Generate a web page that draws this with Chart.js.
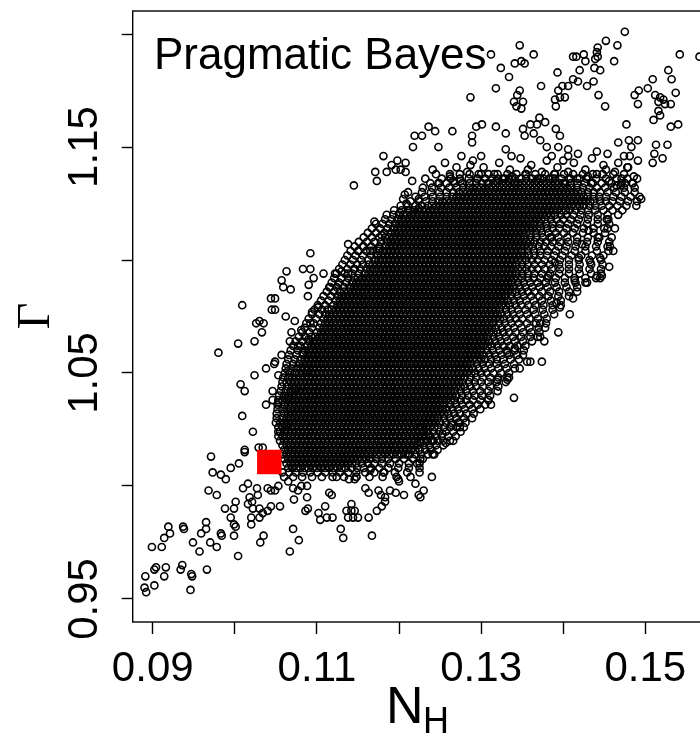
<!DOCTYPE html>
<html>
<head>
<meta charset="utf-8">
<title>Pragmatic Bayes</title>
<script src="https://cdn.jsdelivr.net/npm/chart.js@4.4.1/dist/chart.umd.min.js"></script>
<style>
  html, body { margin: 0; padding: 0; background: #fff; overflow: hidden; width: 700px; height: 735px; }
  #wrap { width: 712px; height: 735px; }
  canvas { display: block; width: 712px; height: 735px; }
</style>
</head>
<body>
<div id="wrap"><canvas id="my-chart" width="712" height="735"></canvas></div>
<script>
'use strict';

//**************AXES********** */
let xTicks = [0.09, 0.10, 0.11, 0.12, 0.13, 0.14, 0.15];
let xLabels = ['0.09', '', '0.11', '', '0.13', '', '0.15'];
let yTicks = [0.95, 1.00, 1.05, 1.10, 1.15, 1.20];
let yLabels = ['0.95', '', '1.05', '', '1.15', ''];

//**************DATA********** */
// red square: the true (N_H, Gamma)
let trueValue = [[0.1042, 1.0106]];

// single draws: [N_H, Gamma]
let outerDraws = [
  [.1219,1.155],[.1217,1.150],[.1181,1.146],[.1191,1.142],[.1198,1.144],[.1208,1.143],[.1171,1.139],[.1185,1.139],
  [.1196,1.140],[.1202,1.140],[.1208,1.139],[.1173,1.135],[.1145,1.133],[.1216,1.135],[.1207,1.129],[.1211,1.130],
  [.1205,1.127],[.1209,1.125],[.1201,1.121],[.1213,1.122],[.1224,1.123],[.1224,1.127],
  [.1347,1.195],[.1364,1.191],[.1312,1.191],[.1324,1.185],[.1341,1.187],[.1349,1.188],[.1353,1.187],[.1334,1.181],
  [.1393,1.183],[.1318,1.176],[.1287,1.172],[.1347,1.175],[.1344,1.173],[.1351,1.170],[.1340,1.170],[.1343,1.168],
  [.1349,1.167],[.1373,1.177],[.1394,1.175],[.1399,1.177],[.1396,1.172],[.1390,1.171],[.1391,1.168],[.1236,1.159],
  [.1244,1.157],[.1228,1.155],[.1265,1.157],[.1248,1.150],[.1294,1.159],[.1301,1.160],[.1289,1.155],[.1289,1.152],
  [.1318,1.159],[.1330,1.156],[.1276,1.146],[.1300,1.146],[.1330,1.149],[.1337,1.146],[.1351,1.158],[.1360,1.160],
  [.1368,1.160],[.1371,1.163],[.1378,1.161],[.1353,1.155],[.1364,1.156],[.1372,1.153],[.1380,1.150],[.1391,1.158],
  [.1396,1.155],[.1394,1.150],[.1386,1.146],[.1400,1.144],
  [.1475,1.201],[.1452,1.197],[.1466,1.195],[.1442,1.194],[.1441,1.192],[.1442,1.190],[.1439,1.189],[.1412,1.190],
  [.1416,1.190],[.1425,1.191],[.1427,1.188],[.1462,1.188],[.1438,1.185],[.1445,1.184],[.1420,1.184],[.1542,1.191],
  [.1566,1.190],[.1528,1.184],[.1532,1.180],[.1509,1.180],[.1503,1.176],[.1492,1.175],[.1487,1.173],[.1491,1.169],
  [.1512,1.173],[.1518,1.172],[.1522,1.171],[.1516,1.170],[.1524,1.169],[.1531,1.169],[.1537,1.174],[.1516,1.166],
  [.1518,1.164],[.1510,1.162],[.1531,1.159],[.1540,1.160],[.1477,1.160],[.1412,1.180],[.1418,1.179],[.1406,1.177],
  [.1429,1.177],[.1437,1.179],[.1443,1.173],[.1451,1.168],[.1402,1.172],[.1467,1.152],[.1480,1.153],[.1491,1.153],
  [.1483,1.150],[.1513,1.151],[.1527,1.151],[.1511,1.147],[.1521,1.145],[.1509,1.143],[.1491,1.144],[.1481,1.146],
  [.1474,1.146],[.1467,1.143],[.1479,1.141],[.1454,1.147],[.1441,1.148],[.1435,1.145],[.1495,1.127],[.1490,1.136],
  [.1485,1.134],[.1475,1.134],[.1465,1.133],[.1418,1.147],[.1406,1.149],[.1406,1.146],
  [.1232,1.136],[.1241,1.140],[.1249,1.134],[.1256,1.143],[.1262,1.137],[.1270,1.141],[.1275,1.135],[.1283,1.139],
  [.1290,1.144],[.1296,1.136],[.1303,1.141],[.1309,1.134],[.1316,1.138],[.1322,1.143],[.1329,1.136],[.1335,1.140],
  [.1341,1.134],[.1348,1.145],[.1354,1.138],[.1361,1.142],[.1367,1.135],[.1374,1.139],[.1380,1.144],[.1387,1.136],
  [.1393,1.141],[.1400,1.134],[.1406,1.139],[.1413,1.143],[.1420,1.136],[.1427,1.140],[.1434,1.134],[.1441,1.138],
  [.1449,1.142],[.1456,1.135],[.1463,1.139],[.1471,1.136],[.1478,1.141],[.1486,1.137],[.1245,1.138],[.1266,1.135],
  [.1287,1.142],[.1300,1.138],[.1319,1.135],[.1338,1.137],[.1357,1.140],[.1372,1.136],[.1390,1.138],[.1409,1.136],
  [.1430,1.137],[.1452,1.140],[.1470,1.133],
  [.1453,1.118],[.1454,1.114],[.1442,1.110],[.1431,1.113],[.1423,1.107],[.1457,1.106],[.1461,1.104],[.1445,1.101],
  [.1433,1.099],[.1456,1.097],[.1419,1.101],[.1441,1.093],[.1445,1.092],[.1447,1.093],[.1427,1.090],[.1414,1.091],
  [.1412,1.083],[.1408,1.076],
  [.1394,1.068],[.1374,1.055],[.1377,1.064],[.1372,1.066],[.1356,1.055],[.1347,1.052],[.1360,1.055],[.1341,1.061],
  [.1332,1.059],[.1320,1.047],[.1332,1.047],[.1334,1.048],[.1340,1.039],[.1312,1.036],[.1372,1.072],[.1396,1.079],
  [.1392,1.081],[.1382,1.093],[.1390,1.099],[.1386,1.110],
  [.1170,1.117],[.1179,1.111],[.1138,1.107],[.1150,1.104],[.1157,1.106],[.1165,1.104],[.1176,1.105],[.1092,1.103],
  [.1063,1.095],[.1083,1.096],[.1092,1.096],[.1096,1.092],[.1108,1.094],[.1122,1.094],[.1130,1.095],[.1138,1.094],
  [.1146,1.096],[.1057,1.091],[.1059,1.088],[.1068,1.087],[.1090,1.089],[.1089,1.084],[.1116,1.088],[.1126,1.089],
  [.1049,1.083],[.1049,1.078],[.1062,1.075],[.1073,1.073],[.1081,1.069],[.1092,1.072],[.1094,1.077],[.1101,1.079],
  [.1069,1.068],[.1067,1.064],[.1057,1.058],[.1049,1.055],[.1090,1.065],[.1077,1.062],[.1083,1.059],[.1053,1.049],
  [.1065,1.051],[.1088,1.051],[.1065,1.039],[.1053,1.037],[.1073,1.043],
  [.1009,1.080],[.1044,1.083],[.1045,1.078],[.1026,1.072],[.1030,1.073],[.1035,1.072],[.1033,1.068],[.1004,1.063],
  [.1024,1.064],[.0980,1.059],[.1038,1.052],[.1048,1.054],[.1024,1.049],[.1007,1.045],[.1012,1.042],[.1046,1.042],
  [.1046,1.038],[.1038,1.036],[.1009,1.031],
  [.1022,1.024],[.1012,1.016],[.1012,1.015],[.1029,1.017],[.1034,1.017],[.0971,1.013],[.1005,1.010],[.0995,1.008],
  [.0989,1.003],[.0983,1.005],[.0973,1.006],[.0968,0.998],[.0978,0.996],[.1010,0.999],[.1016,1.001],[.1027,0.999],
  [.1028,0.996],[.1018,0.995],[.1021,0.993],[.1040,0.999],[.1044,0.998],[.1001,0.993],[.0999,0.990],[.0988,0.990],
  [.0995,0.986],[.0999,0.983],[.1001,0.982],[.0983,0.979],[.0984,0.978],[.0999,0.978],[.1016,0.992],[.1022,0.990],
  [.1030,0.990],[.1034,0.988],[.1040,0.989],[.1044,0.991],[.1020,0.986],[.1020,0.983],[.1030,0.986],[.1035,0.978],
  [.1031,0.975],[.0965,0.984],[.0965,0.981],[.0959,0.979],[.0949,0.975],[.0957,0.971],[.0970,0.975],[.0978,0.973],
  [.0937,0.982],[.0938,0.981],[.0919,0.982],[.0921,0.979],[.0914,0.977],[.0911,0.973],[.0899,0.973],[.1004,0.969],
  [.0936,0.965],[.0934,0.963],[.0947,0.961],[.0948,0.960],[.0946,0.954],[.0966,0.963],[.0904,0.964],[.0902,0.963],
  [.0916,0.964],[.0914,0.960],[.0891,0.960],[.0902,0.956],[.0890,0.955],[.0892,0.953],
  [.1063,1.027],[.1053,1.024],[.1165,1.007],[.1181,1.006],[.1124,1.004],[.1139,1.003],[.1148,1.004],[.1146,1.003],
  [.1199,1.003],[.1200,1.002],[.1211,1.014],[.1222,1.010],[.1220,1.001],[.1224,0.996],[.1053,1.000],[.1049,0.998],
  [.1065,1.002],[.1071,0.999],[.1081,1.000],[.1088,1.000],[.1077,0.998],[.1088,0.995],[.1072,0.994],[.1055,0.991],
  [.1115,0.997],[.1118,0.996],[.1159,0.999],[.1163,0.997],[.1175,0.998],[.1178,0.996],[.1183,0.995],[.1189,0.998],
  [.1196,0.997],[.1206,0.996],[.1183,0.993],[.1179,0.991],[.1173,0.989],[.1163,0.986],[.1086,0.989],[.1089,0.990],
  [.1102,0.988],[.1110,0.991],[.1104,0.985],[.1112,0.986],[.1119,0.986],[.1142,0.992],[.1136,0.989],[.1142,0.989],
  [.1146,0.989],[.1138,0.986],[.1144,0.986],[.1150,0.986],[.1129,0.981],[.1132,0.977],[.1167,0.978],[.1071,0.981],
  [.1078,0.976],[.1067,0.971],
  [.1264,1.027],[.1274,1.028],[.1274,1.026],[.1253,1.023],[.1257,1.019],[.1266,1.020],[.1242,1.020],[.1241,1.014],
  [.1243,1.014],[.1236,1.023],[.1238,1.017],[.1240,1.004],[.1230,0.998],[.1226,0.995],[.1226,1.026],[.1226,1.019],
  [.1226,1.012]
];

// dense core, read row by row: [Gamma, [N_H x 10^4 of the draws along that row]]
let coreRows = [
  [1.138, [1262,1274,1286,1297,1309,1320,1332,1343,1355,1366,1378,1389,1401,1412,1424,1436,1448,1461,1474]],
  [1.136, [1252,1263,1274,1285,1295,1305,1313,1320,1327,1334,1341,1348,1355,1362,1369,1376,1383,1390,1398,1407,1417,1428,1440,1452,1465,1478]],
  [1.134, [1238,1248,1258,1268,1277,1286,1294,1301,1308,1315,1320,1325,1330,1335,1340,1345,1350,1355,1360,1365,1370,1375,1380,1385,1390,1395,1402,1409,1417,1426,1436,1447,1459,1471,1484]],
  [1.132, [1229,1240,1251,1261,1270,1278,1285,1290,1295,1300,1305,1310,1315,1320,1325,1330,1335,1340,1345,1350,1355,1360,1365,1370,1375,1380,1385,1390,1395,1400,1405,1410,1417,1424,1432,1441,1451,1462,1474,1487]],
  [1.130, [1228,1239,1249,1258,1266,1273,1278,1283,1288,1293,1298,1303,1308,1313,1318,1323,1328,1333,1338,1343,1348,1353,1358,1363,1368,1373,1378,1383,1388,1393,1398,1403,1408,1413,1418,1423,1430,1437,1445,1454,1464,1475,1487]],
  [1.128, [1220,1231,1241,1250,1258,1265,1270,1275,1280,1285,1290,1295,1300,1305,1310,1315,1320,1325,1330,1335,1340,1345,1350,1355,1360,1365,1370,1375,1380,1385,1390,1395,1400,1405,1410,1415,1420,1425,1430,1437,1444,1452,1461,1471,1482,1493]],
  [1.126, [1214,1224,1233,1241,1248,1253,1258,1263,1268,1273,1278,1283,1288,1293,1298,1303,1308,1313,1318,1323,1328,1333,1338,1343,1348,1353,1358,1363,1368,1373,1378,1383,1388,1393,1398,1403,1408,1413,1418,1423,1428,1433,1438,1445,1452,1460,1469,1479,1490]],
  [1.124, [1202,1211,1220,1228,1235,1240,1245,1250,1255,1260,1265,1270,1275,1280,1285,1290,1295,1300,1305,1310,1315,1320,1325,1330,1335,1340,1345,1350,1355,1360,1365,1370,1375,1380,1385,1390,1395,1400,1405,1410,1415,1420,1425,1432,1439,1447,1456,1466,1477,1489]],
  [1.122, [1194,1203,1211,1218,1223,1228,1233,1238,1243,1248,1253,1258,1263,1268,1273,1278,1283,1288,1293,1298,1303,1308,1313,1318,1323,1328,1333,1338,1343,1348,1353,1358,1363,1368,1373,1378,1383,1388,1393,1398,1403,1408,1415,1422,1430,1439,1449,1460,1472]],
  [1.120, [1185,1193,1200,1205,1210,1215,1220,1225,1230,1235,1240,1245,1250,1255,1260,1265,1270,1275,1280,1285,1290,1295,1300,1305,1310,1315,1320,1325,1330,1335,1340,1345,1350,1355,1360,1365,1370,1375,1380,1385,1390,1397,1404,1412,1421,1431,1442,1454,1467]],
  [1.118, [1183,1191,1198,1203,1208,1213,1218,1223,1228,1233,1238,1243,1248,1253,1258,1263,1268,1273,1278,1283,1288,1293,1298,1303,1308,1313,1318,1323,1328,1333,1338,1343,1348,1353,1358,1363,1368,1373,1378,1385,1392,1400,1409,1419,1430,1442,1455]],
  [1.116, [1172,1180,1188,1195,1200,1205,1210,1215,1220,1225,1230,1235,1240,1245,1250,1255,1260,1265,1270,1275,1280,1285,1290,1295,1300,1305,1310,1315,1320,1325,1330,1335,1340,1345,1350,1355,1360,1365,1372,1379,1387,1396,1406,1417,1429,1442,1456]],
  [1.114, [1167,1177,1186,1193,1198,1203,1208,1213,1218,1223,1228,1233,1238,1243,1248,1253,1258,1263,1268,1273,1278,1283,1288,1293,1298,1303,1308,1313,1318,1323,1328,1333,1338,1343,1348,1353,1358,1363,1368,1373,1380,1387,1395,1404,1414,1425,1437,1450,1463]],
  [1.112, [1162,1172,1182,1190,1195,1200,1205,1210,1215,1220,1225,1230,1235,1240,1245,1250,1255,1260,1265,1270,1275,1280,1285,1290,1295,1300,1305,1310,1315,1320,1325,1330,1335,1340,1345,1350,1355,1360,1367,1374,1382,1391,1401,1412,1424,1437,1451]],
  [1.110, [1157,1167,1176,1183,1188,1193,1198,1203,1208,1213,1218,1223,1228,1233,1238,1243,1248,1253,1258,1263,1268,1273,1278,1283,1288,1293,1298,1303,1308,1313,1318,1323,1328,1333,1338,1343,1348,1353,1360,1367,1375,1384,1394,1405,1417,1430,1444,1459]],
  [1.108, [1151,1161,1170,1178,1185,1190,1195,1200,1205,1210,1215,1220,1225,1230,1235,1240,1245,1250,1255,1260,1265,1270,1275,1280,1285,1290,1295,1300,1305,1310,1315,1320,1325,1330,1335,1340,1345,1350,1355,1360,1365,1372,1379,1387,1396,1406,1417,1429,1442,1456]],
  [1.106, [1146,1156,1166,1176,1183,1188,1193,1198,1203,1208,1213,1218,1223,1228,1233,1238,1243,1248,1253,1258,1263,1268,1273,1278,1283,1288,1293,1298,1303,1308,1313,1318,1323,1328,1333,1338,1343,1348,1353,1358,1363,1370,1377,1385,1394,1404,1415,1427,1440,1454]],
  [1.104, [1141,1151,1160,1168,1175,1180,1185,1190,1195,1200,1205,1210,1215,1220,1225,1230,1235,1240,1245,1250,1255,1260,1265,1270,1275,1280,1285,1290,1295,1300,1305,1310,1315,1320,1325,1330,1335,1340,1345,1350,1357,1364,1372,1381,1391,1402,1414,1427,1441,1455]],
  [1.102, [1137,1147,1156,1166,1173,1178,1183,1188,1193,1198,1203,1208,1213,1218,1223,1228,1233,1238,1243,1248,1253,1258,1263,1268,1273,1278,1283,1288,1293,1298,1303,1308,1313,1318,1323,1328,1333,1338,1343,1348,1353,1358,1365,1372,1380,1389,1399,1410,1422,1435,1449]],
  [1.100, [1134,1144,1154,1163,1170,1175,1180,1185,1190,1195,1200,1205,1210,1215,1220,1225,1230,1235,1240,1245,1250,1255,1260,1265,1270,1275,1280,1285,1290,1295,1300,1305,1310,1315,1320,1325,1330,1335,1340,1345,1350,1355,1362,1369,1377,1386,1396,1407,1419,1432,1446]],
  [1.098, [1131,1141,1149,1156,1163,1168,1173,1178,1183,1188,1193,1198,1203,1208,1213,1218,1223,1228,1233,1238,1243,1248,1253,1258,1263,1268,1273,1278,1283,1288,1293,1298,1303,1308,1313,1318,1323,1328,1333,1338,1343,1350,1357,1365,1374,1384,1395,1407,1420,1434,1448]],
  [1.096, [1127,1137,1145,1153,1160,1165,1170,1175,1180,1185,1190,1195,1200,1205,1210,1215,1220,1225,1230,1235,1240,1245,1250,1255,1260,1265,1270,1275,1280,1285,1290,1295,1300,1305,1310,1315,1320,1325,1330,1335,1340,1345,1350,1355,1362,1369,1377,1386,1396,1407,1419,1432,1446]],
  [1.094, [1124,1134,1143,1151,1158,1163,1168,1173,1178,1183,1188,1193,1198,1203,1208,1213,1218,1223,1228,1233,1238,1243,1248,1253,1258,1263,1268,1273,1278,1283,1288,1293,1298,1303,1308,1313,1318,1323,1328,1333,1338,1343,1350,1357,1365,1374,1384,1395,1407,1420,1434,1446]],
  [1.092, [1121,1130,1138,1145,1150,1155,1160,1165,1170,1175,1180,1185,1190,1195,1200,1205,1210,1215,1220,1225,1230,1235,1240,1245,1250,1255,1260,1265,1270,1275,1280,1285,1290,1295,1300,1305,1310,1315,1320,1325,1330,1335,1340,1345,1350,1357,1364,1372,1381,1391,1402,1414,1427,1440]],
  [1.090, [1118,1127,1136,1143,1148,1153,1158,1163,1168,1173,1178,1183,1188,1193,1198,1203,1208,1213,1218,1223,1228,1233,1238,1243,1248,1253,1258,1263,1268,1273,1278,1283,1288,1293,1298,1303,1308,1313,1318,1323,1328,1333,1338,1345,1352,1360,1369,1379,1390,1402,1415,1429]],
  [1.088, [1115,1124,1133,1140,1145,1150,1155,1160,1165,1170,1175,1180,1185,1190,1195,1200,1205,1210,1215,1220,1225,1230,1235,1240,1245,1250,1255,1260,1265,1270,1275,1280,1285,1290,1295,1300,1305,1310,1315,1320,1325,1330,1335,1340,1347,1354,1362,1371,1381,1392,1404,1417]],
  [1.086, [1112,1121,1128,1133,1138,1143,1148,1153,1158,1163,1168,1173,1178,1183,1188,1193,1198,1203,1208,1213,1218,1223,1228,1233,1238,1243,1248,1253,1258,1263,1268,1273,1278,1283,1288,1293,1298,1303,1308,1313,1318,1323,1328,1333,1338,1343,1350,1357,1365,1374,1384,1395,1407,1417]],
  [1.084, [1108,1117,1125,1130,1135,1140,1145,1150,1155,1160,1165,1170,1175,1180,1185,1190,1195,1200,1205,1210,1215,1220,1225,1230,1235,1240,1245,1250,1255,1260,1265,1270,1275,1280,1285,1290,1295,1300,1305,1310,1315,1320,1325,1330,1337,1344,1352,1361,1371,1382,1394,1407]],
  [1.082, [1105,1114,1123,1128,1133,1138,1143,1148,1153,1158,1163,1168,1173,1178,1183,1188,1193,1198,1203,1208,1213,1218,1223,1228,1233,1238,1243,1248,1253,1258,1263,1268,1273,1278,1283,1288,1293,1298,1303,1308,1313,1318,1323,1328,1333,1340,1347,1355,1364,1374,1385,1397]],
  [1.080, [1101,1110,1120,1125,1130,1135,1140,1145,1150,1155,1160,1165,1170,1175,1180,1185,1190,1195,1200,1205,1210,1215,1220,1225,1230,1235,1240,1245,1250,1255,1260,1265,1270,1275,1280,1285,1290,1295,1300,1305,1310,1315,1320,1325,1330,1335,1342,1349,1357,1366,1376,1387,1397]],
  [1.078, [1097,1106,1113,1118,1123,1128,1133,1138,1143,1148,1153,1158,1163,1168,1173,1178,1183,1188,1193,1198,1203,1208,1213,1218,1223,1228,1233,1238,1243,1248,1253,1258,1263,1268,1273,1278,1283,1288,1293,1298,1303,1308,1313,1318,1323,1330,1337,1345,1354,1364,1375,1387]],
  [1.076, [1094,1103,1110,1115,1120,1125,1130,1135,1140,1145,1150,1155,1160,1165,1170,1175,1180,1185,1190,1195,1200,1205,1210,1215,1220,1225,1230,1235,1240,1245,1250,1255,1260,1265,1270,1275,1280,1285,1290,1295,1300,1305,1310,1315,1320,1325,1332,1339,1347,1356,1366,1377,1389]],
  [1.074, [1090,1099,1108,1113,1118,1123,1128,1133,1138,1143,1148,1153,1158,1163,1168,1173,1178,1183,1188,1193,1198,1203,1208,1213,1218,1223,1228,1233,1238,1243,1248,1253,1258,1263,1268,1273,1278,1283,1288,1293,1298,1303,1308,1313,1318,1323,1328,1335,1342,1350,1359,1369,1380]],
  [1.072, [1087,1096,1105,1110,1115,1120,1125,1130,1135,1140,1145,1150,1155,1160,1165,1170,1175,1180,1185,1190,1195,1200,1205,1210,1215,1220,1225,1230,1235,1240,1245,1250,1255,1260,1265,1270,1275,1280,1285,1290,1295,1300,1305,1310,1315,1322,1329,1337,1346,1356,1367,1379]],
  [1.070, [1085,1094,1103,1108,1113,1118,1123,1128,1133,1138,1143,1148,1153,1158,1163,1168,1173,1178,1183,1188,1193,1198,1203,1208,1213,1218,1223,1228,1233,1238,1243,1248,1253,1258,1263,1268,1273,1278,1283,1288,1293,1298,1303,1308,1313,1318,1325,1332,1340,1349,1359,1370,1378]],
  [1.068, [1082,1091,1100,1105,1110,1115,1120,1125,1130,1135,1140,1145,1150,1155,1160,1165,1170,1175,1180,1185,1190,1195,1200,1205,1210,1215,1220,1225,1230,1235,1240,1245,1250,1255,1260,1265,1270,1275,1280,1285,1290,1295,1300,1305,1310,1315,1320,1327,1334,1342,1351,1361,1371]],
  [1.066, [1078,1086,1093,1098,1103,1108,1113,1118,1123,1128,1133,1138,1143,1148,1153,1158,1163,1168,1173,1178,1183,1188,1193,1198,1203,1208,1213,1218,1223,1228,1233,1238,1243,1248,1253,1258,1263,1268,1273,1278,1283,1288,1293,1298,1303,1308,1315,1322,1330,1339,1349,1360,1369]],
  [1.064, [1074,1082,1090,1095,1100,1105,1110,1115,1120,1125,1130,1135,1140,1145,1150,1155,1160,1165,1170,1175,1180,1185,1190,1195,1200,1205,1210,1215,1220,1225,1230,1235,1240,1245,1250,1255,1260,1265,1270,1275,1280,1285,1290,1295,1300,1305,1310,1317,1324,1332,1341,1351,1362]],
  [1.062, [1071,1080,1088,1093,1098,1103,1108,1113,1118,1123,1128,1133,1138,1143,1148,1153,1158,1163,1168,1173,1178,1183,1188,1193,1198,1203,1208,1213,1218,1223,1228,1233,1238,1243,1248,1253,1258,1263,1268,1273,1278,1283,1288,1293,1298,1303,1308,1313,1320,1327,1335,1344,1354]],
  [1.060, [1068,1077,1085,1090,1095,1100,1105,1110,1115,1120,1125,1130,1135,1140,1145,1150,1155,1160,1165,1170,1175,1180,1185,1190,1195,1200,1205,1210,1215,1220,1225,1230,1235,1240,1245,1250,1255,1260,1265,1270,1275,1280,1285,1290,1295,1300,1307,1314,1322,1331,1341,1352]],
  [1.058, [1066,1075,1083,1088,1093,1098,1103,1108,1113,1118,1123,1128,1133,1138,1143,1148,1153,1158,1163,1168,1173,1178,1183,1188,1193,1198,1203,1208,1213,1218,1223,1228,1233,1238,1243,1248,1253,1258,1263,1268,1273,1278,1283,1288,1293,1298,1303,1310,1317,1325,1334,1344,1351]],
  [1.056, [1065,1073,1080,1085,1090,1095,1100,1105,1110,1115,1120,1125,1130,1135,1140,1145,1150,1155,1160,1165,1170,1175,1180,1185,1190,1195,1200,1205,1210,1215,1220,1225,1230,1235,1240,1245,1250,1255,1260,1265,1270,1275,1280,1285,1290,1295,1300,1305,1312,1319,1327,1336,1346]],
  [1.054, [1063,1071,1078,1083,1088,1093,1098,1103,1108,1113,1118,1123,1128,1133,1138,1143,1148,1153,1158,1163,1168,1173,1178,1183,1188,1193,1198,1203,1208,1213,1218,1223,1228,1233,1238,1243,1248,1253,1258,1263,1268,1273,1278,1283,1288,1295,1302,1310,1319,1329,1340]],
  [1.052, [1062,1069,1075,1080,1085,1090,1095,1100,1105,1110,1115,1120,1125,1130,1135,1140,1145,1150,1155,1160,1165,1170,1175,1180,1185,1190,1195,1200,1205,1210,1215,1220,1225,1230,1235,1240,1245,1250,1255,1260,1265,1270,1275,1280,1285,1290,1297,1304,1312,1321,1331,1341]],
  [1.050, [1061,1067,1073,1078,1083,1088,1093,1098,1103,1108,1113,1118,1123,1128,1133,1138,1143,1148,1153,1158,1163,1168,1173,1178,1183,1188,1193,1198,1203,1208,1213,1218,1223,1228,1233,1238,1243,1248,1253,1258,1263,1268,1273,1278,1283,1288,1293,1300,1307,1315,1324,1334]],
  [1.048, [1059,1065,1070,1075,1080,1085,1090,1095,1100,1105,1110,1115,1120,1125,1130,1135,1140,1145,1150,1155,1160,1165,1170,1175,1180,1185,1190,1195,1200,1205,1210,1215,1220,1225,1230,1235,1240,1245,1250,1255,1260,1265,1270,1275,1280,1287,1294,1302,1311,1321,1332]],
  [1.046, [1058,1063,1068,1073,1078,1083,1088,1093,1098,1103,1108,1113,1118,1123,1128,1133,1138,1143,1148,1153,1158,1163,1168,1173,1178,1183,1188,1193,1198,1203,1208,1213,1218,1223,1228,1233,1238,1243,1248,1253,1258,1263,1268,1273,1278,1285,1292,1300,1309,1319,1330]],
  [1.044, [1057,1064,1070,1075,1080,1085,1090,1095,1100,1105,1110,1115,1120,1125,1130,1135,1140,1145,1150,1155,1160,1165,1170,1175,1180,1185,1190,1195,1200,1205,1210,1215,1220,1225,1230,1235,1240,1245,1250,1255,1260,1265,1270,1275,1280,1287,1294,1302,1311,1321]],
  [1.042, [1056,1062,1068,1073,1078,1083,1088,1093,1098,1103,1108,1113,1118,1123,1128,1133,1138,1143,1148,1153,1158,1163,1168,1173,1178,1183,1188,1193,1198,1203,1208,1213,1218,1223,1228,1233,1238,1243,1248,1253,1258,1263,1268,1275,1282,1290,1299,1309,1320]],
  [1.040, [1054,1060,1065,1070,1075,1080,1085,1090,1095,1100,1105,1110,1115,1120,1125,1130,1135,1140,1145,1150,1155,1160,1165,1170,1175,1180,1185,1190,1195,1200,1205,1210,1215,1220,1225,1230,1235,1240,1245,1250,1255,1260,1265,1270,1277,1284,1292,1301,1311]],
  [1.038, [1053,1058,1063,1068,1073,1078,1083,1088,1093,1098,1103,1108,1113,1118,1123,1128,1133,1138,1143,1148,1153,1158,1163,1168,1173,1178,1183,1188,1193,1198,1203,1208,1213,1218,1223,1228,1233,1238,1243,1248,1253,1258,1263,1268,1275,1282,1290,1299,1309]],
  [1.036, [1052,1060,1065,1070,1075,1080,1085,1090,1095,1100,1105,1110,1115,1120,1125,1130,1135,1140,1145,1150,1155,1160,1165,1170,1175,1180,1185,1190,1195,1200,1205,1210,1215,1220,1225,1230,1235,1240,1245,1250,1255,1262,1269,1277,1286,1296,1305]],
  [1.034, [1052,1058,1063,1068,1073,1078,1083,1088,1093,1098,1103,1108,1113,1118,1123,1128,1133,1138,1143,1148,1153,1158,1163,1168,1173,1178,1183,1188,1193,1198,1203,1208,1213,1218,1223,1228,1233,1238,1243,1248,1253,1258,1265,1272,1280,1289,1299]],
  [1.032, [1051,1060,1065,1070,1075,1080,1085,1090,1095,1100,1105,1110,1115,1120,1125,1130,1135,1140,1145,1150,1155,1160,1165,1170,1175,1180,1185,1190,1195,1200,1205,1210,1215,1220,1225,1230,1235,1240,1245,1250,1255,1260,1267,1274,1282,1291]],
  [1.030, [1051,1058,1063,1068,1073,1078,1083,1088,1093,1098,1103,1108,1113,1118,1123,1128,1133,1138,1143,1148,1153,1158,1163,1168,1173,1178,1183,1188,1193,1198,1203,1208,1213,1218,1223,1228,1233,1238,1243,1248,1255,1262,1270,1279,1289]],
  [1.028, [1050,1055,1060,1065,1070,1075,1080,1085,1090,1095,1100,1105,1110,1115,1120,1125,1130,1135,1140,1145,1150,1155,1160,1165,1170,1175,1180,1185,1190,1195,1200,1205,1210,1215,1220,1225,1230,1235,1240,1245,1250,1257,1264,1272,1281]],
  [1.026, [1053,1058,1063,1068,1073,1078,1083,1088,1093,1098,1103,1108,1113,1118,1123,1128,1133,1138,1143,1148,1153,1158,1163,1168,1173,1178,1183,1188,1193,1198,1203,1208,1213,1218,1223,1228,1233,1238,1243,1248,1255,1262,1270,1279]],
  [1.024, [1055,1060,1065,1070,1075,1080,1085,1090,1095,1100,1105,1110,1115,1120,1125,1130,1135,1140,1145,1150,1155,1160,1165,1170,1175,1180,1185,1190,1195,1200,1205,1210,1215,1220,1225,1230,1235,1242,1249,1257,1266,1275]],
  [1.022, [1053,1058,1063,1068,1073,1078,1083,1088,1093,1098,1103,1108,1113,1118,1123,1128,1133,1138,1143,1148,1153,1158,1163,1168,1173,1178,1183,1188,1193,1198,1203,1208,1213,1218,1223,1228,1233,1238,1245,1252,1260,1269]],
  [1.020, [1055,1060,1065,1070,1075,1080,1085,1090,1095,1100,1105,1110,1115,1120,1125,1130,1135,1140,1145,1150,1155,1160,1165,1170,1175,1180,1185,1190,1195,1200,1205,1210,1215,1220,1225,1230,1235,1240,1247,1254,1262]],
  [1.018, [1058,1063,1068,1073,1078,1083,1088,1093,1098,1103,1108,1113,1118,1123,1128,1133,1138,1143,1148,1153,1158,1163,1168,1173,1178,1183,1188,1193,1198,1203,1208,1213,1218,1223,1230,1237,1245,1254]],
  [1.016, [1060,1065,1070,1075,1080,1085,1090,1095,1100,1105,1110,1115,1120,1125,1130,1135,1140,1145,1150,1155,1160,1165,1170,1175,1180,1185,1190,1195,1200,1205,1210,1215,1220,1225,1232,1239,1247]],
  [1.014, [1058,1063,1068,1073,1078,1083,1088,1093,1098,1103,1108,1113,1118,1123,1128,1133,1138,1143,1148,1153,1158,1163,1168,1173,1178,1183,1188,1193,1198,1203,1208,1213,1220,1227,1235]],
  [1.012, [1060,1065,1070,1075,1080,1085,1090,1095,1100,1105,1110,1115,1120,1125,1130,1135,1140,1145,1150,1155,1160,1165,1172,1179,1187,1196,1206,1217,1229]],
  [1.010, [1063,1068,1073,1078,1083,1088,1093,1098,1103,1108,1113,1118,1123,1128,1133,1138,1143,1148,1155,1162,1170,1179,1189,1200,1212,1225]],
  [1.008, [1065,1070,1075,1080,1085,1090,1095,1100,1105,1110,1115,1120,1125,1130,1135,1142,1149,1157,1166,1176,1187,1199,1212,1225]],
  [1.006, [1058,1066,1074,1083,1092,1101,1110,1119,1128,1138,1148,1159,1170,1182,1195,1210,1225]],
  [1.004, [1060,1071,1082,1094,1106,1119,1133,1148,1164,1180,1197,1214]]
];

//**************HELPERS********** */
function buildDraws() {
  let points = [];
  for (let i = 0; i < coreRows.length; i++) {
    let gamma = coreRows[i][0];
    let nhList = coreRows[i][1];
    for (let j = 0; j < nhList.length; j++) {
      points.push({ x: nhList[j] / 10000, y: gamma });
    }
  }
  for (let i = 0; i < outerDraws.length; i++) {
    points.push({ x: outerDraws[i][0], y: outerDraws[i][1] });
  }
  return points;
}

let tickFont = { family: '"Liberation Sans", Arial, Helvetica, sans-serif', size: 42 };

// fixed axis boxes so the plot area sits where the original one does
function fixBox(size) {
  return function (s) {
    if (s.isHorizontal()) { s.height = size; } else { s.width = size; }
    s.paddingTop = 0;
    s.paddingBottom = 0;
    s.paddingLeft = 0;
    s.paddingRight = 0;
  };
}

// box around the plot + the free texts (title, N_H with subscript, Gamma)
let framePlugin = {
  id: 'frame',
  afterDraw(chart) {
    let ctx = chart.ctx;
    let a = chart.chartArea;
    ctx.save();
    ctx.strokeStyle = '#000';
    ctx.lineWidth = 1.4;
    ctx.strokeRect(a.left, a.top, a.right - a.left, a.bottom - a.top);

    ctx.fillStyle = '#000';
    ctx.textBaseline = 'alphabetic';
    ctx.textAlign = 'left';
    ctx.font = '44px "Liberation Sans", Arial, sans-serif';
    ctx.fillText('Pragmatic Bayes', 154, 69);

    ctx.font = '52px "Liberation Sans", Arial, sans-serif';
    ctx.fillText('N', 386, 723);
    ctx.font = '36px "Liberation Sans", Arial, sans-serif';
    ctx.fillText('H', 423, 733);

    ctx.translate(37, 316);
    ctx.rotate(-Math.PI / 2);
    ctx.textAlign = 'center';
    ctx.textBaseline = 'middle';
    ctx.font = '46px "Liberation Serif", "DejaVu Serif", serif';
    ctx.fillText('Γ', 0, 0);
    ctx.restore();
  }
};

//**************CHART********** */
let ctx = document.getElementById('my-chart');

let chartObj = {
  type: 'scatter',
  data: {
    datasets: [{
      label: 'true value',
      data: trueValue.map(p => ({ x: p[0], y: p[1] })),
      pointStyle: 'rect',
      pointRadius: 17.3,
      pointBackgroundColor: '#ff0000',
      pointBorderWidth: 0,
      pointBorderColor: '#ff0000',
      order: 0
    },
    {
      label: 'posterior draws',
      data: buildDraws(),
      pointStyle: 'circle',
      pointRadius: 3.55,
      pointBorderWidth: 1.6,
      pointBorderColor: '#000000',
      pointBackgroundColor: 'rgba(0,0,0,0)',
      order: 1
    }]
  },
  options: {
    responsive: false,
    animation: false,
    events: [],
    layout: { autoPadding: false, padding: { top: 11, right: 1, left: 0, bottom: 0 } },
    plugins: {
      legend: { display: false },
      tooltip: { enabled: false }
    },
    scales: {
      x: {
        type: 'linear',
        position: 'bottom',
        min: 0.08756,
        max: 0.1580,
        afterBuildTicks: s => { s.ticks = xTicks.map(v => ({ value: v })); },
        afterFit: fixBox(113),
        border: { display: false },
        grid: { drawOnChartArea: false, drawTicks: true, tickLength: 12, tickWidth: 1.4, color: '#000', tickColor: '#000' },
        ticks: {
          autoSkip: false,
          maxRotation: 0,
          padding: 10,
          color: '#000',
          font: tickFont,
          callback: (v, i) => xLabels[i]
        }
      },
      y: {
        type: 'linear',
        position: 'left',
        min: 0.9398,
        max: 1.2102,
        afterBuildTicks: s => { s.ticks = yTicks.map(v => ({ value: v })); },
        afterFit: fixBox(132.7),
        border: { display: false },
        grid: { drawOnChartArea: false, drawTicks: true, tickLength: 11, tickWidth: 1.4, color: '#000', tickColor: '#000' },
        ticks: {
          autoSkip: false,
          minRotation: 90,
          maxRotation: 90,
          crossAlign: 'center',
          padding: -5,
          color: '#000',
          font: tickFont,
          callback: (v, i) => yLabels[i]
        }
      }
    }
  },
  plugins: [framePlugin]
};

new Chart(ctx, chartObj);
</script>
</body>
</html>
